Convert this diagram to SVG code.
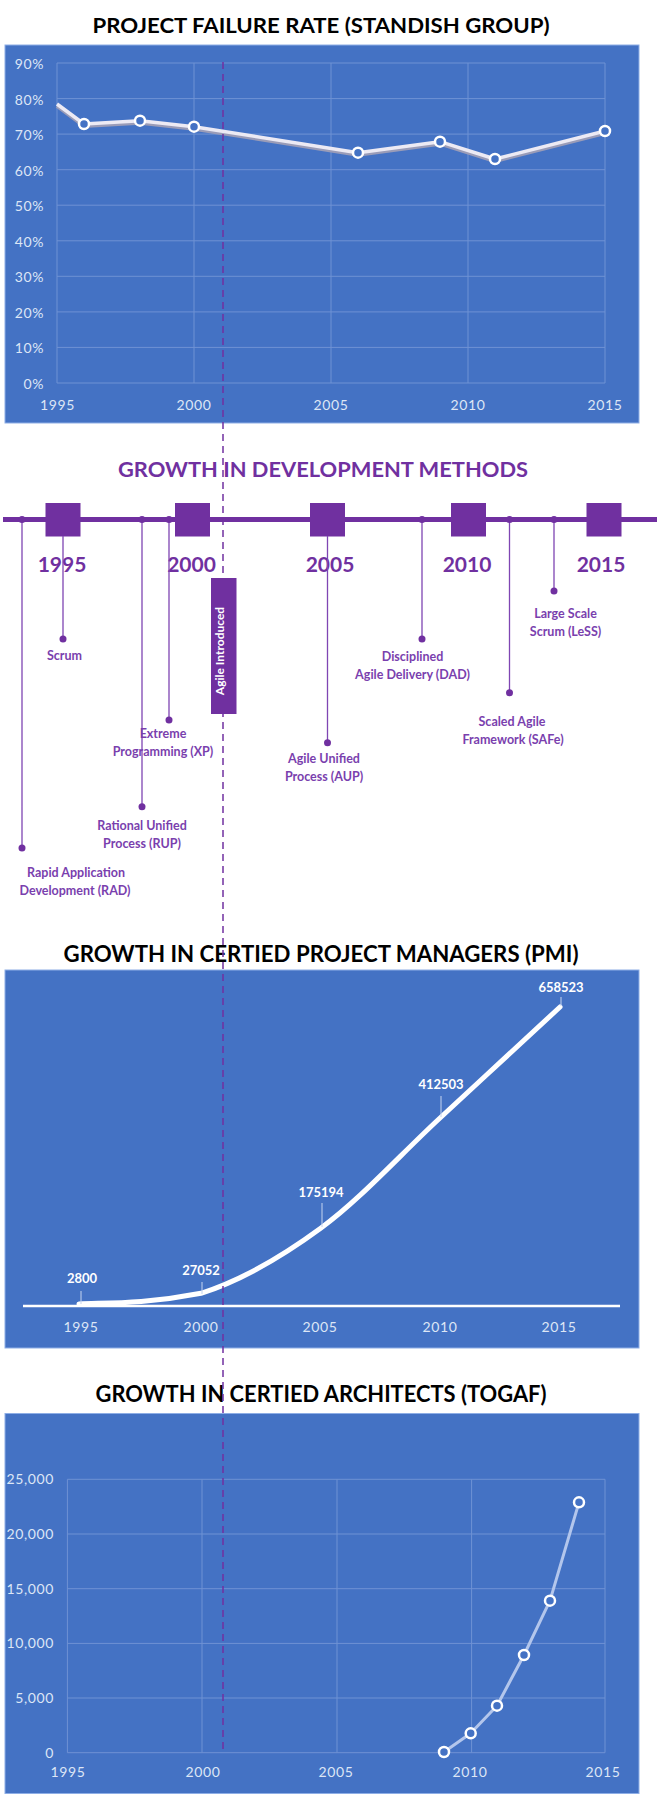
<svg xmlns="http://www.w3.org/2000/svg" width="659" height="1795" viewBox="0 0 659 1795">
<style>
.title{font-family:Lato,"Open Sans","Liberation Sans",sans-serif;font-weight:bold;text-anchor:middle}
.blk{fill:#000}
.pur{fill:#7030A0}
.panel{fill:#4472C4;stroke:#8eaee6;stroke-width:1}
.grid{stroke:#6f92d4;stroke-width:1;fill:none}
.tick{font-family:Lato,"Open Sans","Liberation Sans",sans-serif;font-size:14px;fill:#dde6f6;letter-spacing:0.6px}
.tickr{text-anchor:end}
.tickm{text-anchor:middle}
.mk{fill:#4472C4;stroke:#ffffff;stroke-width:2.5}
.lbl{font-family:Lato,"Open Sans","Liberation Sans",sans-serif;font-size:12.5px;font-weight:bold;fill:#7a3fae;text-anchor:middle}
.yr{font-family:Lato,"Open Sans","Liberation Sans",sans-serif;font-size:21px;font-weight:bold;fill:#7030A0;text-anchor:middle}
.stem{stroke:#7f46b3;stroke-width:1.3;fill:none}
.dot{fill:#7030A0}
.val{font-family:Lato,"Open Sans","Liberation Sans",sans-serif;font-size:13px;font-weight:bold;fill:#ffffff;text-anchor:middle}
.lead{stroke:#c5d4ef;stroke-width:1}
</style>

<!-- Chart 1: Project failure rate -->
<g id="chart-failure">
  <text class="title blk" x="321" y="33" font-size="21" textLength="457" lengthAdjust="spacingAndGlyphs">PROJECT FAILURE RATE (STANDISH GROUP)</text>
  <rect class="panel" x="5" y="45" width="634" height="378"/>
  <g class="grid">
    <path d="M57 63H605M57 98.6H605M57 134.1H605M57 169.7H605M57 205.2H605M57 240.8H605M57 276.3H605M57 311.9H605M57 347.4H605M57 383H605"/>
    <path d="M57 63V383M194 63V383M331 63V383M468 63V383M605 63V383"/>
  </g>
  <g class="tick tickr">
    <text x="44" y="69">90%</text>
    <text x="44" y="104.6">80%</text>
    <text x="44" y="140.1">70%</text>
    <text x="44" y="175.7">60%</text>
    <text x="44" y="211.2">50%</text>
    <text x="44" y="246.8">40%</text>
    <text x="44" y="282.3">30%</text>
    <text x="44" y="317.9">20%</text>
    <text x="44" y="353.4">10%</text>
    <text x="44" y="389">0%</text>
  </g>
  <g class="tick tickm">
    <text x="57.5" y="410">1995</text>
    <text x="194" y="410">2000</text>
    <text x="331" y="410">2005</text>
    <text x="468" y="410">2010</text>
    <text x="605" y="410">2015</text>
  </g>
  <path d="M57 106L84 126L140 122.7L194 128.7L358 154.7L440 143.7L495 161L605 133" fill="none" stroke="#9a9cb8" stroke-width="4" stroke-linejoin="round"/>
  <path d="M57 104L84 124L140 120.7L194 126.7L358 152.7L440 141.7L495 159L605 131" fill="none" stroke="#eceaf4" stroke-width="3.5" stroke-linejoin="round"/>
  <circle class="mk" cx="84" cy="124" r="5"/>
  <circle class="mk" cx="140" cy="120.7" r="5"/>
  <circle class="mk" cx="194" cy="126.7" r="5"/>
  <circle class="mk" cx="358" cy="152.7" r="5"/>
  <circle class="mk" cx="440" cy="141.7" r="5"/>
  <circle class="mk" cx="495" cy="159" r="5"/>
  <circle class="mk" cx="605" cy="131" r="5"/>
</g>

<!-- Timeline -->
<g id="timeline">
  <text class="title pur" x="323" y="477" font-size="21" textLength="410" lengthAdjust="spacingAndGlyphs">GROWTH IN DEVELOPMENT METHODS</text>
  <line x1="3" y1="519.5" x2="657" y2="519.5" stroke="#7030A0" stroke-width="5"/>
  <g fill="#7030A0">
    <rect x="45.5" y="503" width="35" height="33.5"/>
    <rect x="175" y="503" width="35" height="33.5"/>
    <rect x="310" y="503" width="35" height="33.5"/>
    <rect x="451" y="503" width="35" height="33.5"/>
    <rect x="586.5" y="503" width="35" height="33.5"/>
  </g>
  <text class="yr" x="62" y="572">1995</text>
  <text class="yr" x="191.5" y="572">2000</text>
  <text class="yr" x="330" y="572">2005</text>
  <text class="yr" x="467" y="572">2010</text>
  <text class="yr" x="601" y="572">2015</text>
</g>

<g id="connectors">
  <path class="stem" d="M22 519.5V848M63 536V639M142 519.5V806.7M169 519.5V720M327.5 536V742.7M422 519.5V639M509.5 519.5V692.7M554 519.5V591"/>
  <g class="dot">
    <circle cx="22" cy="519.5" r="3.5"/>
    <circle cx="142" cy="519.5" r="3.5"/>
    <circle cx="169" cy="519.5" r="3.5"/>
    <circle cx="422" cy="519.5" r="3.5"/>
    <circle cx="509.5" cy="519.5" r="3.5"/>
    <circle cx="554" cy="519.5" r="3.5"/>
  </g>
</g>

<g id="m-rad"><circle class="dot" cx="22" cy="848" r="3.5"/><text class="lbl" x="76" y="877">Rapid Application</text><text class="lbl" x="75" y="895">Development (RAD)</text></g>
<g id="m-scrum"><circle class="dot" cx="63" cy="639" r="3.5"/><text class="lbl" x="64.5" y="660">Scrum</text></g>
<g id="m-rup"><circle class="dot" cx="142" cy="806.7" r="3.5"/><text class="lbl" x="142" y="830">Rational Unified</text><text class="lbl" x="142" y="847.5">Process (RUP)</text></g>
<g id="m-xp"><circle class="dot" cx="169" cy="720" r="3.5"/><text class="lbl" x="163" y="738">Extreme</text><text class="lbl" x="163" y="756">Programming (XP)</text></g>
<g id="m-aup"><circle class="dot" cx="327.5" cy="742.7" r="3.5"/><text class="lbl" x="324" y="763">Agile Unified</text><text class="lbl" x="324" y="781">Process (AUP)</text></g>
<g id="m-dad"><circle class="dot" cx="422" cy="639" r="3.5"/><text class="lbl" x="412.5" y="661">Disciplined</text><text class="lbl" x="412.5" y="678.5">Agile Delivery (DAD)</text></g>
<g id="m-safe"><circle class="dot" cx="509.5" cy="692.7" r="3.5"/><text class="lbl" x="512" y="726">Scaled Agile</text><text class="lbl" x="513" y="743.5">Framework (SAFe)</text></g>
<g id="m-less"><circle class="dot" cx="554" cy="591" r="3.5"/><text class="lbl" x="565.5" y="618">Large Scale</text><text class="lbl" x="565.5" y="636">Scrum (LeSS)</text></g>

<!-- PMI chart -->
<g id="chart-pmi">
  <text class="title blk" x="321" y="962" font-size="23" textLength="515" lengthAdjust="spacingAndGlyphs">GROWTH IN CERTIED PROJECT MANAGERS (PMI)</text>
  <rect class="panel" x="5" y="970" width="634" height="378"/>
  <line x1="23" y1="1306" x2="620" y2="1306" stroke="#ffffff" stroke-width="2.5"/>
  <g class="tick tickm">
    <text x="81" y="1332">1995</text>
    <text x="201" y="1332">2000</text>
    <text x="320" y="1332">2005</text>
    <text x="440" y="1332">2010</text>
    <text x="559" y="1332">2015</text>
  </g>
  <path d="M79 1304C101 1302.5 141 1305 201 1293.3C241 1280.6 281.2 1257.2 321 1228C360.8 1198.8 400.2 1154.8 440 1118C479.8 1081.2 540 1025.5 560 1007" fill="none" stroke="#ffffff" stroke-width="5" stroke-linecap="round"/>
  <g class="lead">
    <line x1="81" y1="1291" x2="81" y2="1304"/>
    <line x1="202" y1="1282" x2="202" y2="1294"/>
    <line x1="322" y1="1203" x2="322" y2="1227"/>
    <line x1="441" y1="1096" x2="441" y2="1117"/>
    <line x1="561" y1="997" x2="561" y2="1006"/>
  </g>
  <text class="val" x="82" y="1283">2800</text>
  <text class="val" x="201" y="1275">27052</text>
  <text class="val" x="321" y="1197">175194</text>
  <text class="val" x="441" y="1089">412503</text>
  <text class="val" x="561" y="992">658523</text>
</g>

<!-- TOGAF chart -->
<g id="chart-togaf">
  <text class="title blk" x="321" y="1402" font-size="23" textLength="451" lengthAdjust="spacingAndGlyphs">GROWTH IN CERTIED ARCHITECTS (TOGAF)</text>
  <rect class="panel" x="5" y="1413.5" width="634" height="380"/>
  <g class="grid">
    <path d="M67.4 1479.3H605M67.4 1534H605M67.4 1588.7H605M67.4 1643.4H605M67.4 1698H605M67.4 1752.7H605"/>
    <path d="M67.4 1479.3V1752.7M202 1479.3V1752.7M337 1479.3V1752.7M471.6 1479.3V1752.7M605 1479.3V1752.7"/>
  </g>
  <g class="tick tickr">
    <text x="54" y="1484.3">25,000</text>
    <text x="54" y="1539">20,000</text>
    <text x="54" y="1593.7">15,000</text>
    <text x="54" y="1648.4">10,000</text>
    <text x="54" y="1703">5,000</text>
    <text x="54" y="1757.7">0</text>
  </g>
  <g class="tick tickm">
    <text x="68" y="1777">1995</text>
    <text x="203" y="1777">2000</text>
    <text x="336" y="1777">2005</text>
    <text x="470" y="1777">2010</text>
    <text x="603" y="1777">2015</text>
  </g>
  <path d="M444 1752L470.7 1733.3L497 1705.7L524 1655L550 1600.7L579 1502.3" fill="none" stroke="#b3c6ec" stroke-width="3" stroke-linejoin="round"/>
  <circle class="mk" cx="444" cy="1752" r="5"/>
  <circle class="mk" cx="470.7" cy="1733.3" r="5"/>
  <circle class="mk" cx="497" cy="1705.7" r="5"/>
  <circle class="mk" cx="524" cy="1655" r="5"/>
  <circle class="mk" cx="550" cy="1600.7" r="5"/>
  <circle class="mk" cx="579" cy="1502.3" r="5"/>
</g>

<!-- Agile introduced marker -->
<g id="agile-line">
  <line x1="223" y1="62" x2="223" y2="1753" stroke="#7030A0" stroke-width="1.5" stroke-dasharray="7 5"/>
</g>
<g id="agile-box">
  <rect x="211" y="578" width="25.5" height="136" fill="#7030A0"/>
  <text x="224" y="651" transform="rotate(-90 224 651)" font-family="Lato,'Open Sans','Liberation Sans',sans-serif" font-size="12" font-weight="bold" fill="#ffffff" text-anchor="middle">Agile Introduced</text>
</g>
</svg>
